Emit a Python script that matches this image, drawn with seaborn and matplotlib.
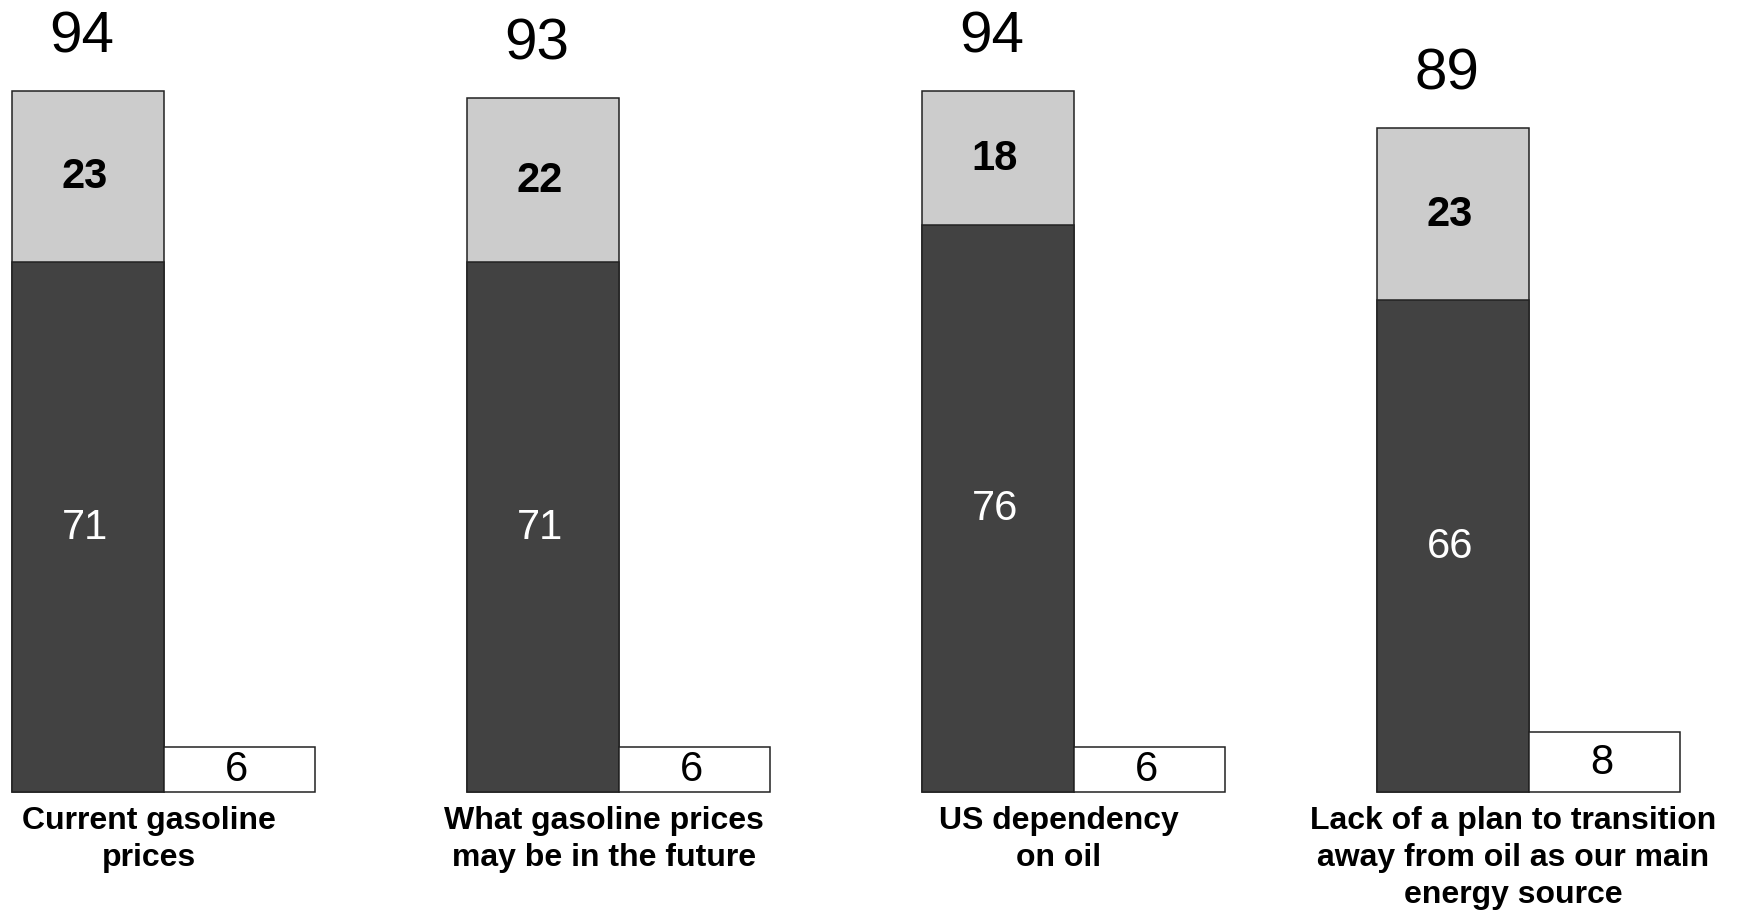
import matplotlib.pyplot as plt
import numpy as np
import pandas as pd
import seaborn as sns

categorias = [
    "Current gasoline\nprices",
    "What gasoline prices\nmay be in the future",
    "US dependency\non oil",
    "Lack of a plan to transition\naway from oil as our main\nenergy source",
]
muy_preocupado = [71, 71, 76, 66]
algo_preocupado = [23, 22, 18, 23]
total_preocupado = [94, 93, 94, 89]
no_preocupado = [6, 6, 6, 8]

GRIS_OSCURO = "#424242"
GRIS_CLARO = "#cccccc"


def configurar_estilo():
    sns.set_theme(style="white")
    plt.rcParams["font.family"] = ["Liberation Sans", "DejaVu Sans"]


def grafico_preocupacion():
    pos_grupo = np.arange(len(categorias)) * 3.0
    df = pd.DataFrame(
        {
            "pos": pos_grupo,
            "muy": muy_preocupado,
            "algo": algo_preocupado,
            "total": total_preocupado,
            "no": no_preocupado,
        }
    )
    df["apilado"] = df["muy"] + df["algo"]
    df["pos_no"] = df["pos"] + 1

    fig = plt.figure(figsize=(17.44, 9.12), dpi=100)
    ax = fig.add_axes([0, 0, 1, 1])

    comun = dict(native_scale=True, errorbar=None, width=1 / 3, ax=ax,
                 edgecolor="#222222", linewidth=1.1)
    sns.barplot(data=df, x="pos", y="apilado", color=GRIS_CLARO, saturation=1, **comun)
    sns.barplot(data=df, x="pos", y="muy", color=GRIS_OSCURO, saturation=1, **comun)
    sns.barplot(data=df, x="pos_no", y="no", color="white", saturation=1, **comun)

    for _, fila in df.iterrows():
        x = fila["pos"]
        ax.text(x - 0.02, fila["muy"] / 2, f"{fila['muy']:.0f}", ha="center",
                va="center", color="white", fontsize=30)
        ax.text(x - 0.02, fila["muy"] + fila["algo"] / 2, f"{fila['algo']:.0f}",
                ha="center", va="center", color="black", fontsize=30, fontweight="bold")
        ax.text(x - 0.04, fila["apilado"] + 7.3, f"{fila['total']:.0f}", ha="center",
                va="center", color="black", fontsize=42)
        ax.text(fila["pos_no"] - 0.02, fila["no"] / 2, f"{fila['no']:.0f}", ha="center",
                va="center", color="black", fontsize=30)

    for x, etiqueta in zip(pos_grupo, categorias):
        ax.text(x + 0.4, -1.8, etiqueta, ha="center", va="top", fontsize=23,
                fontweight="bold", linespacing=1.3, color="black")

    ax.set_xlim(-0.58, 10.92)
    ax.set_ylim(-16, 106.3)
    ax.axis("off")
    fig.savefig("out.png", dpi=100)


configurar_estilo()
grafico_preocupacion()
